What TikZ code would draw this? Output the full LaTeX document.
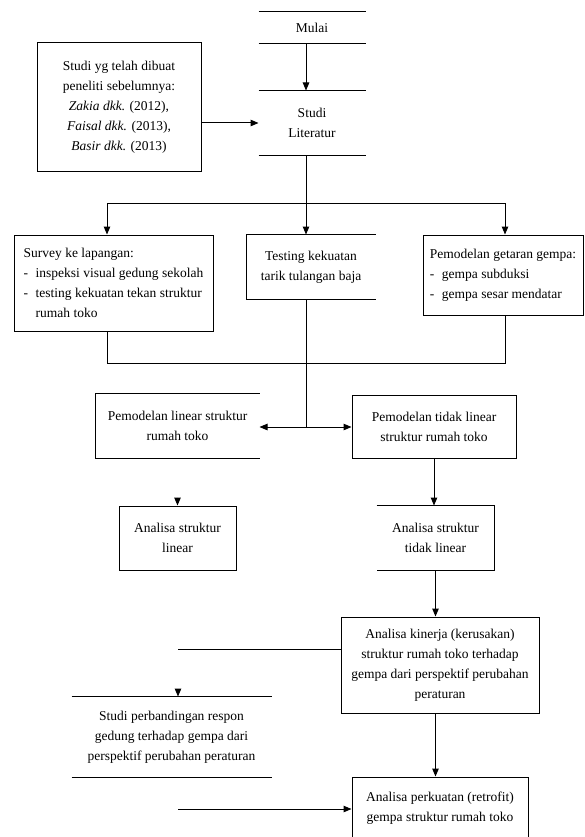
\documentclass[tikz,border=0pt]{standalone}
\usepackage{fontspec}
\setmainfont{Liberation Serif}
\usetikzlibrary{arrows.meta}
\usetikzlibrary{calc}
\tikzset{->/.style = {-{Triangle[length = 8pt, width = 6.5pt]}}}
\tikzset{blok/.style = {inner sep = 0, align = center, font = \fontsize{13.5}{20}\selectfont}}
\newcommand{\butir}{\makebox[12pt][l]{-}}

\begin{document}
\begin{tikzpicture}[x = 1pt, y = -1pt, line width = 1pt]
  \clip (0, 0) rectangle (584, 837);
  \fill [white] (0, 0) rectangle (584, 837);
  \node [blok, minimum width = 106, minimum height = 31] (mulai) at (312, 27.5) {Mulai};
  \node [blok, minimum width = 106, minimum height = 64] (literatur) at (312, 123) {Studi\\Literatur};
  \node [blok, draw, minimum width = 164, minimum height = 129] (sebelum) at (119, 107.5) {Studi yg telah dibuat\\peneliti sebelumnya:\\\textit{Zakia dkk.} (2012),\\\textit{Faisal dkk.} (2013),\\\textit{Basir dkk.} (2013)};
  \node [blok, draw, align = left, minimum width = 199, minimum height = 96] (survey) at (113.5, 283) {Survey ke lapangan:\\\butir inspeksi visual gedung sekolah\\\butir testing kekuatan tekan struktur\\\hspace*{12pt}rumah toko};
  \node [blok, minimum width = 128, minimum height = 64] (tarik) at (311, 267) {Testing kekuatan\\tarik tulangan baja};
  \node [blok, draw, align = left, minimum width = 160, minimum height = 80] (getaran) at (503, 275) {Pemodelan getaran gempa:\\\butir gempa subduksi\\\butir gempa sesar mendatar};
  \node [blok, minimum width = 163, minimum height = 64] (linmodel) at (177.5, 426) {Pemodelan linear struktur\\rumah toko};
  \node [blok, draw, minimum width = 164, minimum height = 63] (nonlinmodel) at (434, 426.5) {Pemodelan tidak  linear\\struktur rumah toko};
  \node [blok, draw, minimum width = 117, minimum height = 64] (linanalisa) at (177.5, 538) {Analisa struktur\\linear};
  \node [blok, minimum width = 117, minimum height = 64] (nonlinanalisa) at (435.5, 538) {Analisa struktur\\tidak linear};
  \node [blok, draw, minimum width = 198, minimum height = 96] (kinerja) at (440, 665) {Analisa kinerja (kerusakan)\\struktur rumah toko terhadap\\gempa dari perspektif  perubahan\\peraturan};
  \node [blok, minimum width = 199, minimum height = 80] (banding) at (171.5, 737) {Studi perbandingan respon\\gedung terhadap gempa dari\\perspektif  perubahan peraturan};
  \node [blok, draw, minimum width = 176, minimum height = 62] (retrofit) at (440, 808) {Analisa perkuatan (retrofit)\\gempa struktur rumah toko};

  \draw (mulai.north west) -- (mulai.north east) (mulai.south west) -- (mulai.south east);
  \draw (literatur.north west) -- (literatur.north east) (literatur.south west) -- (literatur.south east);
  \draw (tarik.north east) -- (tarik.north west) -- (tarik.south west) -- (tarik.south east);
  \draw (linmodel.north east) -- (linmodel.north west) -- (linmodel.south west) -- (linmodel.south east);
  \draw (nonlinanalisa.north west) -- (nonlinanalisa.north east) -- (nonlinanalisa.south east) -- (nonlinanalisa.south west);
  \draw (banding.north west) -- (banding.north east) (banding.south west) -- (banding.south east);

  \coordinate (trunk) at (306, 0);
  \coordinate (pecah) at (306, 203);
  \coordinate (kiri) at (107, 203);
  \coordinate (kanan) at (505, 203);
  \coordinate (gabung) at (306, 363);
  \coordinate (cabang) at (306, 427);
  \coordinate (ujungkiri) at (178, 649);
  \coordinate (tandabanding) at (178, 689);
  \coordinate (ujungbawah) at (178, 809);

  \draw [->] (mulai.south -| trunk) -- (literatur.north -| trunk);
  \draw [->] (sebelum.east |- literatur.west) -- (literatur.west);
  \draw (literatur.south -| trunk) -- (pecah);
  \draw (kiri) -- (kanan);
  \draw [->] (kiri) -- (kiri |- survey.north);
  \draw [->] (pecah) -- (tarik.north -| pecah);
  \draw [->] (kanan) -- (kanan |- getaran.north);
  \draw (kiri |- survey.south) -- (kiri |- gabung) -- (kanan |- gabung) -- (kanan |- getaran.south);
  \draw (tarik.south -| trunk) -- (cabang);
  \draw [->] (cabang) -- (linmodel.east |- cabang);
  \draw [->] (cabang) -- (nonlinmodel.west |- cabang);
  \draw [->] ([yshift = 8pt] linanalisa.north) -- (linanalisa.north);
  \draw [->] (nonlinmodel.south) -- (nonlinmodel.south |- nonlinanalisa.north);
  \draw [->] (nonlinanalisa.south) -- (nonlinanalisa.south |- kinerja.north);
  \draw (ujungkiri) -- (ujungkiri -| kinerja.west);
  \draw [->] (tandabanding) -- (tandabanding |- banding.north);
  \draw [->] (kinerja.south -| nonlinanalisa.south) -- (retrofit.north -| nonlinanalisa.south);
  \draw [->] (ujungbawah) -- (ujungbawah -| retrofit.west);
\end{tikzpicture}
\end{document}
